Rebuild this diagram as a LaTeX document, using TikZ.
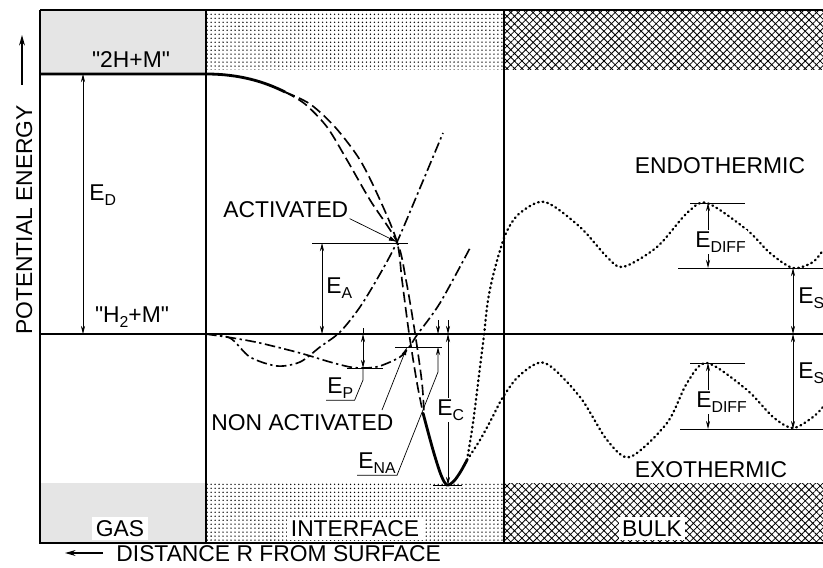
\documentclass[tikz,border=0pt]{standalone}
\usepackage{fontspec}
\setmainfont{Liberation Sans}[Ligatures=TeXOff]
\usetikzlibrary{arrows.meta,patterns.meta}

\newcommand{\lsub}[1]{\raisebox{-5pt}{\fontsize{13.5}{14}\selectfont #1}}

\tikzset{
  lbl/.style={font=\fontsize{19.5}{22}\selectfont, inner sep=1pt},
  dimline/.style={line width=0.6pt, {Stealth[length=7pt,width=3.5pt]}-{Stealth[length=7pt,width=3.5pt]}},
  tipline/.style={line width=0.6pt, -{Stealth[length=7pt,width=3.5pt]}},
  dashcurve/.style={line width=1.4pt, dash pattern=on 9pt off 4pt},
  dashdot/.style={line width=1.4pt, dash pattern=on 9pt off 3pt on 2pt off 3pt},
  dotcurve/.style={line width=2pt, dash pattern=on 0.7pt off 3.3pt, line cap=round},
}

\begin{document}
\begin{tikzpicture}[x=0.03cm, y=-0.03cm]
	\useasboundingbox (0,0) rectangle (823,568);
	% bands: gas, interface, bulk
	\fill[black!10] (40,10) rectangle (206,74);
	\fill[black!10] (40,483) rectangle (206,543);
	\fill[pattern={Dots[distance=3.4pt,radius=0.65pt]}, pattern color=black] (206,10) rectangle (504,70);
	\fill[pattern={Dots[distance=3.4pt,radius=0.65pt]}, pattern color=black] (206,483) rectangle (504,543);
	\fill[pattern={Hatch[angle=45,distance=4.5pt,line width=0.7pt]}] (504,10) rectangle (823,70);
	\fill[pattern={Hatch[angle=45,distance=4.5pt,line width=0.7pt]}] (504,483) rectangle (823,543);
	% frame
	\draw[line width=1.4pt] (40,10) -- (823,10);
	\draw[line width=1.8pt] (40,10) -- (40,543) -- (823,543);
	\draw[line width=1pt] (206,10) -- (206,543);
	\draw[line width=1.2pt] (504,10) -- (504,543);
	\draw[line width=1.2pt] (40,334) -- (823,334);
	\draw[line width=2.4pt] (40,74) -- (206,74) .. controls (240,74) and (265,82) .. (285,92);
	% atomic curves
	\draw[dashcurve] plot[smooth] coordinates {(285,92) (310,104) (335,127) (360,160) (380,200) (397,242) (402,280) (409,333) (417,383) (423,413)};
	\draw[dashcurve] plot[smooth] coordinates {(285,92) (305,104) (327,127) (347,160) (370,200) (397,242) (406,280) (415,333) (422,383) (424,413)};
	\draw[line width=2.4pt] plot[smooth] coordinates {(423,413) (433,450) (441,475) (447,485) (454,481) (461,471) (467,460)};
	% molecular curves
	\draw[dashdot] plot[smooth] coordinates {(206,334) (230,338) (250,357) (277,366) (300,362) (320,347) (340,332) (360,307) (380,274) (397,242) (420,188) (443,133)};
	\draw[dashdot] plot[smooth] coordinates {(206,334) (233,338) (260,343) (300,353) (330,362) (350,367) (365,368) (380,366) (400,357) (410,346) (417,335) (440,303) (470,248)};
	% solution curves in the bulk
	\draw[dotcurve] plot[smooth] coordinates {(467,460) (473,423) (480,367) (484,335) (488,300) (495,268) (506,233) (520,213) (545,202) (580,227) (607,257) (623,267) (657,247) (687,213) (707,203) (747,230) (770,253) (793,268) (813,262) (823,250)};
	\draw[dotcurve] plot[smooth] coordinates {(467,460) (480,440) (492,418) (503,397) (520,375) (545,363) (580,397) (607,440) (630,457) (667,423) (687,383) (707,363) (747,390) (773,417) (793,428) (813,417) (823,407)};

	% labels of the levels
	\node[lbl, anchor=base] (atom) at (131,68) {"2H+M"};
	\node[lbl, anchor=base] (mol) at (132,322) {"H\lsub{2}+M"};
	\draw[dimline] (83,74) -- (83,334);
	\node[lbl, anchor=base west] (ed) at (88,200) {E\lsub{D}};

	% activated
	\coordinate (act) at (397,242);
	\draw[line width=0.6pt] (312,243) -- (408,243);
	\draw[dimline] (322,243) -- (322,334);
	\node[lbl, anchor=base west] (ea) at (325,293) {E\lsub{A}};
	\node[lbl, anchor=base west] (actlbl) at (222,217) {ACTIVATED};
	\draw[line width=0.6pt, -{Latex[length=7pt,width=4pt]}] (actlbl.south east) -- (act);

	% physisorption
	\draw[line width=0.6pt] (347,368) -- (383,368);
	\draw[line width=0.6pt] (363,328) -- (363,334);
	\draw[dimline] (363,334) -- (363,368);
	\node[lbl, anchor=base west] (ep) at (326,393) {E\lsub{P}};
	\coordinate (epk) at (363,380);
	\draw[line width=0.6pt] (ep.south west) -- (ep.south east) -- (epk) -- (363,368);

	% non activated
	\coordinate (nact) at (407,347);
	\coordinate (nastart) at (382,410);
	\draw[line width=0.6pt] (395,347) -- (442,347);
	\node[lbl, anchor=base west] (nalbl) at (210,430) {NON ACTIVATED};
	\draw[line width=0.6pt, -{Latex[length=7pt,width=4pt]}] (nastart) -- (nact);
	\draw[tipline] (438,320) -- (438,334);
	\node[lbl, anchor=base west] (ena) at (357,468) {E\lsub{NA}};
	\coordinate (enak) at (438,372);
	\draw[tipline] (ena.south west) -- (ena.south east) -- (enak) -- (438,347);

	% chemisorption
	\draw[line width=0.6pt] (433,485) -- (462,485);
	\draw[tipline] (448,320) -- (448,334);
	\draw[dimline] (448,334) -- (448,485);
	\node[lbl, anchor=base west, fill=white] (ec) at (436,415) {E\lsub{C}};

	% bulk levels
	\draw[line width=0.6pt] (678,268) -- (823,268);
	\draw[line width=0.6pt] (680,429) -- (823,429);
	\draw[line width=0.6pt] (690,203) -- (745,203);
	\draw[line width=0.6pt] (690,363) -- (745,363);
	\draw[dimline] (708,203) -- (708,268);
	\draw[dimline] (708,363) -- (708,429);
	\draw[dimline] (793,268) -- (793,334);
	\draw[dimline] (793,334) -- (793,429);
	\node[lbl, anchor=base west, fill=white] (ediffa) at (694,247) {E\lsub{DIFF}};
	\node[lbl, anchor=base west, fill=white] (ediffb) at (695,407) {E\lsub{DIFF}};
	\node[lbl, anchor=base west] (esa) at (797,303) {E\lsub{S}};
	\node[lbl, anchor=base west] (esb) at (797,378) {E\lsub{S}};
	\node[lbl, anchor=base] (endo) at (720,173) {ENDOTHERMIC};
	\node[lbl, anchor=base] (exo) at (711,477) {EXOTHERMIC};

	% regions and axes
	\node[lbl, anchor=base, fill=white, inner sep=3pt] (gas) at (120,536) {GAS};
	\node[lbl, anchor=base, fill=white, inner sep=3pt] (iface) at (355,536) {INTERFACE};
	\node[lbl, anchor=base, fill=white, inner sep=3pt] (bulk) at (652,536) {BULK};
	\node[lbl, anchor=base, rotate=90] (pe) at (32,220) {POTENTIAL ENERGY};
	\coordinate (petip) at (22,35);
	\draw[line width=1.2pt, -{Stealth[length=9pt,width=5pt]}] (22,85) -- (petip);
	\node[lbl, anchor=base west] (dist) at (115,561) {DISTANCE R FROM SURFACE};
	\coordinate (disttip) at (65,553);
	\draw[line width=1.2pt, -{Stealth[length=9pt,width=5pt]}] (103,553) -- (disttip);
\end{tikzpicture}
\end{document}
